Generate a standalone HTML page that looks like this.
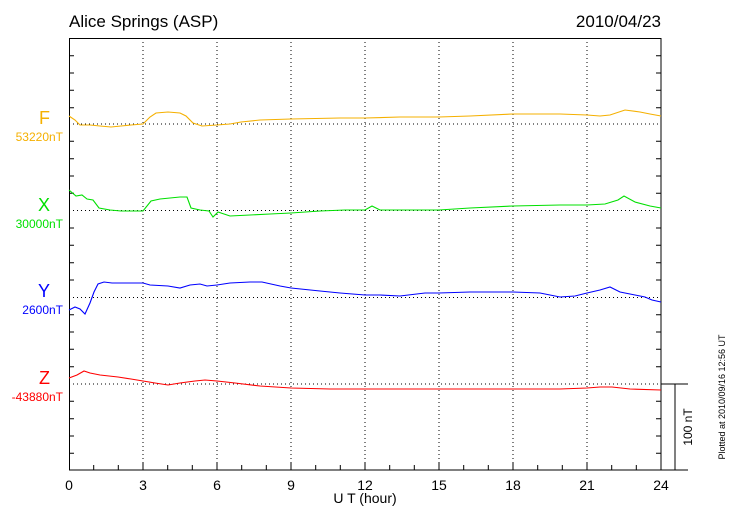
<!DOCTYPE html>
<html><head><meta charset="utf-8"><style>
html,body{margin:0;padding:0;background:#fff}
svg{display:block;font-family:"Liberation Sans",sans-serif}
</style></head><body>
<svg width="730" height="520" viewBox="0 0 730 520" xmlns="http://www.w3.org/2000/svg">
<rect width="730" height="520" fill="#fff"/>
<text x="69" y="27" font-size="17">Alice Springs (ASP)</text>
<text x="661" y="27" font-size="17" text-anchor="end">2010/04/23</text>
<g stroke="#000" stroke-width="1" stroke-dasharray="1,3">
<line x1="143" y1="38" x2="143" y2="470"/><line x1="217" y1="38" x2="217" y2="470"/>
<line x1="291" y1="38" x2="291" y2="470"/><line x1="365" y1="38" x2="365" y2="470"/>
<line x1="439" y1="38" x2="439" y2="470"/><line x1="513" y1="38" x2="513" y2="470"/>
<line x1="587" y1="38" x2="587" y2="470"/>
<line x1="69" y1="124" x2="661" y2="124"/><line x1="69" y1="210.5" x2="661" y2="210.5"/>
<line x1="69" y1="297.5" x2="661" y2="297.5"/><line x1="69" y1="384" x2="661" y2="384"/>
</g>
<rect x="69.5" y="38.5" width="591.5" height="431.5" fill="none" stroke="#000"/>
<g id="t" stroke="#000">
<path d="M69 55.7h5M69 73h5M69 90.3h5M69 107.7h5M69 141.3h5M69 158.7h5M69 176h5M69 193.3h5M69 228h5M69 245.3h5M69 262.7h5M69 280h5M69 314.7h5M69 332h5M69 349.3h5M69 366.7h5M69 401.3h5M69 418.7h5M69 436h5M69 453.3h5"/>
<path d="M661 55.7h-5M661 73h-5M661 90.3h-5M661 107.7h-5M661 141.3h-5M661 158.7h-5M661 176h-5M661 193.3h-5M661 228h-5M661 245.3h-5M661 262.7h-5M661 280h-5M661 314.7h-5M661 332h-5M661 349.3h-5M661 366.7h-5M661 401.3h-5M661 418.7h-5M661 436h-5M661 453.3h-5"/>
<path d="M93.7 470v-5M118.3 470v-5M143 470v-8M167.7 470v-5M192.3 470v-5M217 470v-8M241.7 470v-5M266.3 470v-5M291 470v-8M315.7 470v-5M340.3 470v-5M365 470v-8M389.7 470v-5M414.3 470v-5M439 470v-8M463.7 470v-5M488.3 470v-5M513 470v-8M537.7 470v-5M562.3 470v-5M587 470v-8M611.7 470v-5M636.3 470v-5"/>
</g>
<g font-size="14" text-anchor="middle">
<text x="69" y="490">0</text><text x="143" y="490">3</text><text x="217" y="490">6</text><text x="291" y="490">9</text><text x="365" y="490">12</text><text x="439" y="490">15</text><text x="513" y="490">18</text><text x="587" y="490">21</text><text x="661" y="490">24</text>
</g>
<text x="365" y="503" font-size="14" text-anchor="middle">U T (hour)</text>
<g text-anchor="end">
<text x="50" y="124" font-size="18" fill="#f5b000">F</text><text x="63" y="141" font-size="12" fill="#f5b000">53220nT</text>
<text x="50" y="211" font-size="18" fill="#00e000">X</text><text x="63" y="228" font-size="12" fill="#00e000">30000nT</text>
<text x="50" y="297" font-size="18" fill="#0000ff">Y</text><text x="63" y="314" font-size="12" fill="#0000ff">2600nT</text>
<text x="50" y="384" font-size="18" fill="#ff0000">Z</text><text x="63" y="401" font-size="12" fill="#ff0000">-43880nT</text>
</g>
<g fill="none" stroke-width="1.1">
<polyline stroke="#f5b000" points="69,116 75,120 80,125 90,125 100,126 111,127 121,126 131,125 143,124 150,117 156,113 168,112 180,113 186,116 193,123 202,126 217,125 230,124 241,122 260,120 291,119 340,118 365,118 400,117 439,117 470,116 513,114 560,114 587,115 600,116 610,115 625,110 640,112 650,114 661,116"/>
<polyline stroke="#00e000" points="69,190 76,196 82,195 87,199 93,200 99,208 110,210 121,211 131,211 143,211 151,201 160,199 170,198 180,197 187,197 191,208 200,210 209,211 213,217 218,212 230,216 250,215 270,214 291,213 320,211 345,210 365,210 372,206 380,210 400,210 439,210 470,208 513,206 560,205 587,205 605,204 618,200 624,196 635,202 650,206 661,208"/>
<polyline stroke="#0000ff" points="69,310 75,307 80,309 85,314 90,303 94,292 98,284 104,282 112,283 143,283 150,285 168,286 180,288 190,285 200,284 207,286 217,285 230,283 250,282 262,282 280,286 291,288 320,291 340,293 365,295 380,295 400,296 425,293 439,293 470,292 513,292 540,293 560,297 575,296 587,293 600,290 610,287 620,292 635,295 645,297 652,300 661,302"/>
<polyline stroke="#ff0000" points="69,378 77,375 84,371 90,373 100,375 118,377 131,379 143,381 155,383 168,385 180,383 195,381 205,380 217,381 235,383 260,386 291,388 330,389 365,389 439,389 513,389 560,389 587,388 600,387 612,387 630,389 661,390"/>
</g>
<g stroke="#000" fill="none">
<line x1="661" y1="384" x2="688" y2="384"/><line x1="661" y1="470" x2="688" y2="470"/><line x1="675" y1="384" x2="675" y2="470"/>
</g>
<text transform="translate(692,427) rotate(-90)" font-size="12" text-anchor="middle">100 nT</text>
<text transform="translate(725,397) rotate(-90)" font-size="9" text-anchor="middle">Plotted at 2010/09/16 12:56 UT</text>
</svg>
</body></html>
